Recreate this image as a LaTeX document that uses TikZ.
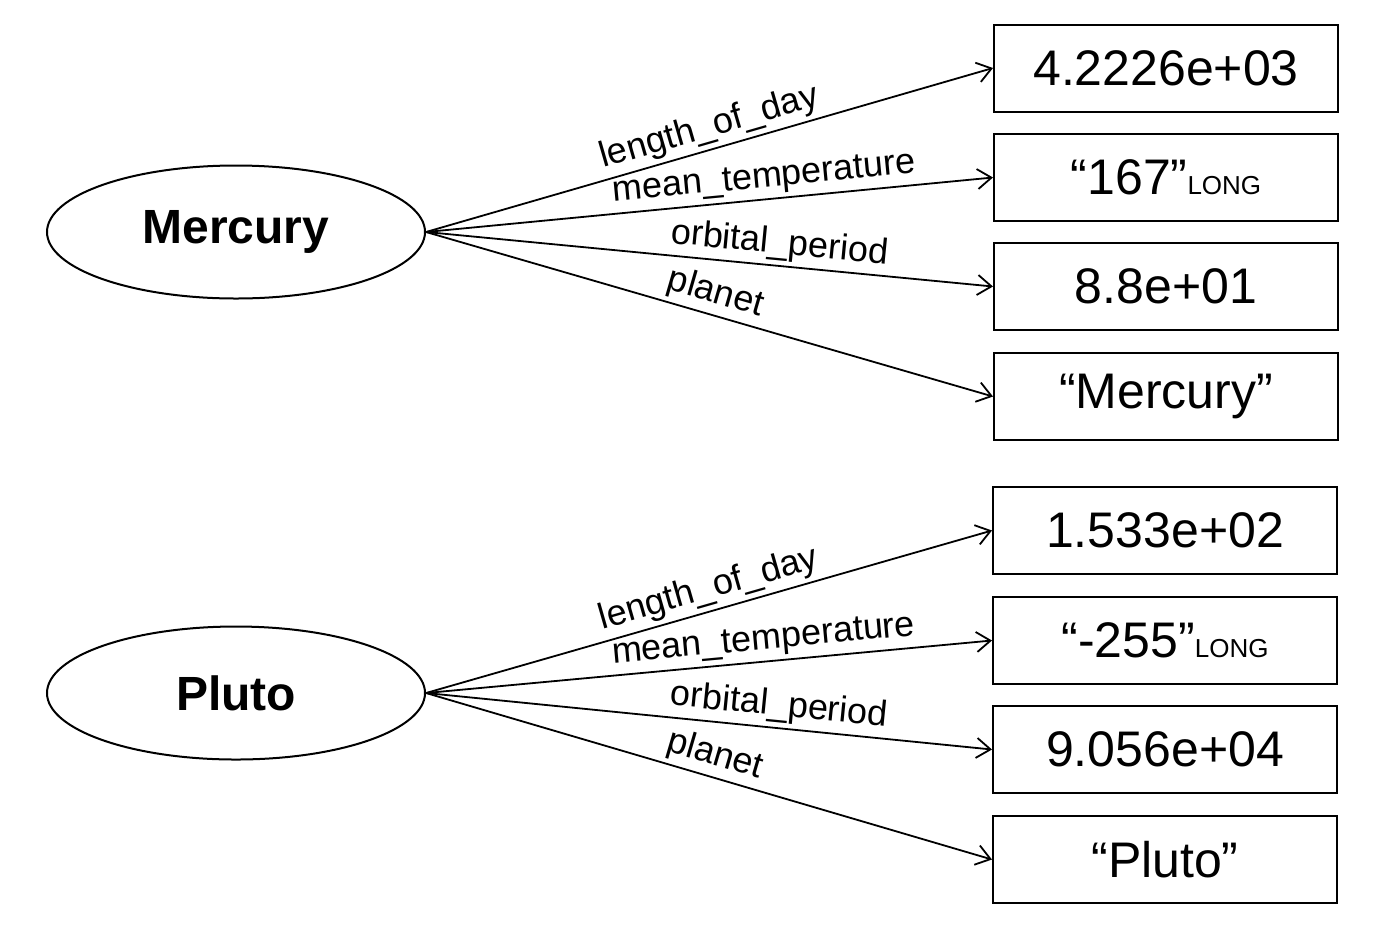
\documentclass[tikz,border=0pt]{standalone}
\usepackage{fontspec}
\setmainfont{Liberation Sans}
\usetikzlibrary{shapes.geometric,arrows.meta}

\tikzset{
  subj/.style={draw,ellipse,line width=1pt,minimum width=189pt,minimum height=66.5pt,
               font=\fontsize{24}{28}\selectfont\bfseries},
  val/.style={draw,rectangle,line width=1pt,minimum width=172pt,minimum height=43.5pt,
              font=\fontsize{25}{30}\selectfont},
  rel/.style={line width=0.9pt,-{Straight Barb[length=7pt,width=10pt,line width=0.9pt]}},
  lbl/.style={sloped,above,inner sep=2pt,font=\fontsize{18}{21}\selectfont}
}
\newcommand{\lng}{{\fontsize{13}{15}\selectfont LONG}}

\begin{document}
\begin{tikzpicture}[x=0.5pt,y=-0.5pt]
  \useasboundingbox (0,0) rectangle (1400,944);

  % Mercury
  \node[subj] (merc) at (236,232) {Mercury};
  \node[val] (merc-len)  at (1166,68)    {4.2226e+03};
  \node[val] (merc-temp) at (1166,177.5) {“167”\lng};
  \node[val] (merc-orb)  at (1166,286.5) {8.8e+01};
  \node[val] (merc-name) at (1166,396.5) {“Mercury”};
  \draw[rel] (merc.east) -- node[lbl,pos=0.51] {length\_of\_day} (merc-len.west);
  \draw[rel] (merc.east) -- node[lbl,pos=0.6] {mean\_temperature} (merc-temp.west);
  \draw[rel] (merc.east) -- node[lbl,pos=0.62] {orbital\_period} (merc-orb.west);
  \draw[rel] (merc.east) -- node[lbl,pos=0.5] {planet} (merc-name.west);

  % Pluto
  \node[subj] (plut) at (236,693) {Pluto};
  \node[val] (plut-len)  at (1165,530.5) {1.533e+02};
  \node[val] (plut-temp) at (1165,640.5) {“-255”\lng};
  \node[val] (plut-orb)  at (1165,749.5) {9.056e+04};
  \node[val] (plut-name) at (1165,859.5) {“Pluto”};
  \draw[rel] (plut.east) -- node[lbl,pos=0.51] {length\_of\_day} (plut-len.west);
  \draw[rel] (plut.east) -- node[lbl,pos=0.6] {mean\_temperature} (plut-temp.west);
  \draw[rel] (plut.east) -- node[lbl,pos=0.62] {orbital\_period} (plut-orb.west);
  \draw[rel] (plut.east) -- node[lbl,pos=0.5] {planet} (plut-name.west);
\end{tikzpicture}
\end{document}
